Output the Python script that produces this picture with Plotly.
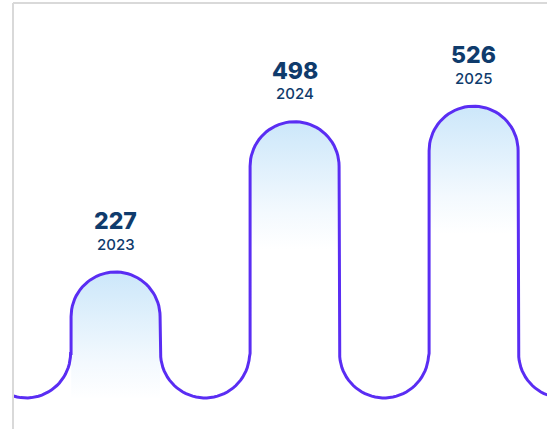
import numpy as np
import plotly.graph_objects as go

# data
years = ["2023", "2024", "2025"]
values = [227, 498, 526]

# canvas / scale setup
W, H = 547, 429
M_L, M_T = 13, 3
X_RANGE = [-0.573, 2.41]
Y_RANGE = [-56, 712]
px_x = (W - M_L) / (X_RANGE[1] - X_RANGE[0])
px_y = (H - M_T) / (Y_RANGE[1] - Y_RANGE[0])

LINE_COLOR = "#5a2df3"
TEXT_COLOR = "#0f3b6c"
rx = 0.2486                  # half width of a bump in x units
ry = rx * px_x / px_y        # same radius in y units so arcs stay round


def arc(cx, cy, t0, t1, n=40):
    t = np.linspace(t0, t1, n)
    return cx + rx * np.cos(t), cy + ry * np.sin(t)


def bump(i, v):
    # left side up, round top, right side down
    xa, ya = arc(i, v - ry, np.pi, 0)
    xs = np.concatenate([[i - rx], xa, [i + rx]])
    ys = np.concatenate([[ry], ya, [ry]])
    return xs, ys


def valley(c):
    return arc(c, ry, np.pi, 2 * np.pi)


fig = go.Figure()

# gradient fills inside each bump
for i, v in enumerate(values):
    xs, ys = bump(i, v)
    xs = np.concatenate([[i - rx], xs, [i + rx]])
    ys = np.concatenate([[0], ys, [0]])
    fig.add_trace(go.Scatter(
        x=xs, y=ys, mode="lines", fill="toself",
        line=dict(width=0),
        fillgradient=dict(
            type="vertical",
            start=v - 230, stop=v,
            colorscale=[[0, "rgba(255,255,255,1)"], [0.3, "#f3f9fe"], [1, "#cce7fa"]],
        ),
        hoverinfo="skip", showlegend=False,
    ))

# the continuous outline
px_all, py_all = [], []
vx, vy = valley(-0.5)
px_all.append(vx); py_all.append(vy)
for i, v in enumerate(values):
    bx, by = bump(i, v)
    px_all.append(bx); py_all.append(by)
    vx, vy = valley(i + 0.5)
    px_all.append(vx); py_all.append(vy)
fig.add_trace(go.Scatter(
    x=np.concatenate(px_all), y=np.concatenate(py_all),
    mode="lines", line=dict(color=LINE_COLOR, width=3),
    hoverinfo="skip", showlegend=False,
))

# labels
for i, (yr, v) in enumerate(zip(years, values)):
    fig.add_annotation(x=i, y=v, text=str(v), showarrow=False,
                       yanchor="middle", yshift=51,
                       font=dict(family="Inter", size=23, weight=800, color=TEXT_COLOR))
    fig.add_annotation(x=i, y=v, text=yr, showarrow=False,
                       yanchor="middle", yshift=28,
                       font=dict(family="Inter", size=15, weight=500, color=TEXT_COLOR))

# light frame on the left and top
fig.add_shape(type="line", xref="paper", yref="paper", x0=0, x1=0, y0=0, y1=1,
              line=dict(color="#d9d9d9", width=2))
fig.add_shape(type="line", xref="paper", yref="paper", x0=0, x1=1, y0=1, y1=1,
              line=dict(color="#d9d9d9", width=2))

fig.update_layout(
    width=W, height=H,
    margin=dict(l=M_L, r=0, t=M_T, b=0),
    paper_bgcolor="white", plot_bgcolor="white",
    showlegend=False,
)
fig.update_xaxes(range=X_RANGE, visible=False, fixedrange=True)
fig.update_yaxes(range=Y_RANGE, visible=False, fixedrange=True)

# drop the browser's default body margin so the figure sits at 0,0
fig.write_html("out.html", config=dict(displayModeBar=False),
               post_script="document.body.style.margin='0';document.body.style.overflow='hidden';")
